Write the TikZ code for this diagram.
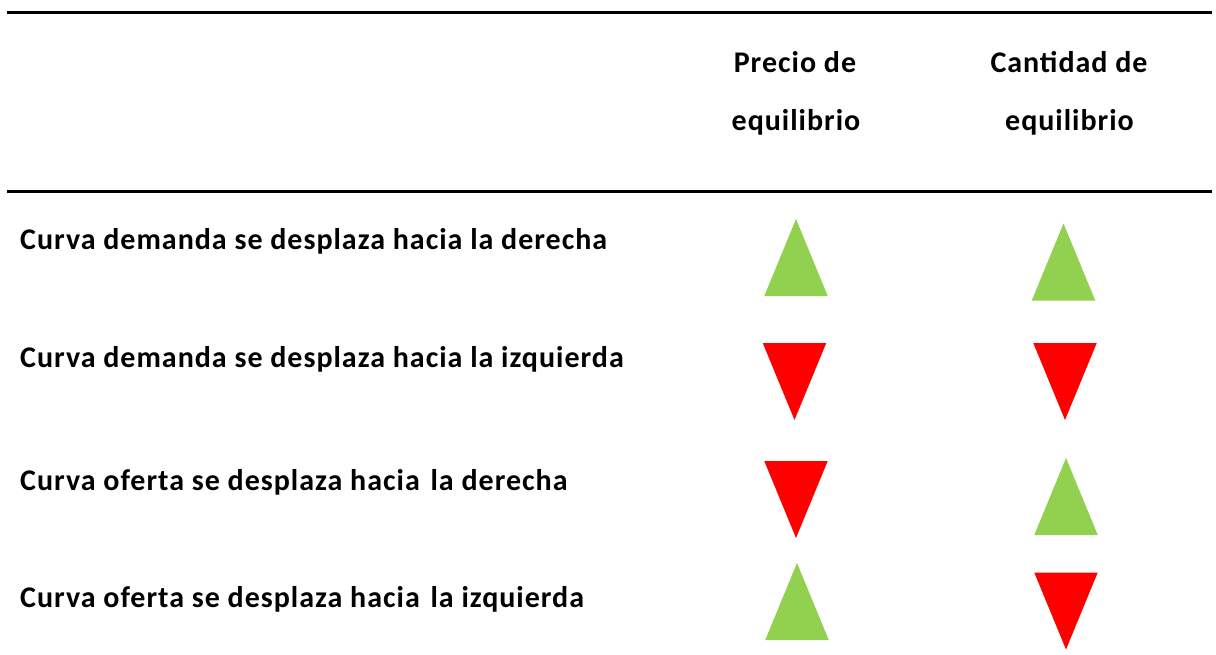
\documentclass[tikz,border=0pt]{standalone}
\usepackage{fontspec}
\setmainfont{Carlito}[LetterSpace=3.3]
\definecolor{verde}{HTML}{92D050}
\definecolor{rojo}{HTML}{FF0000}
\tikzset{
  fila/.style={anchor=base west, inner sep=0pt, font=\bfseries\fontsize{30}{34}\selectfont},
  titulo/.style={anchor=base, inner sep=0pt, font=\bfseries\fontsize{30}{34}\selectfont},
  regla/.style={line width=3pt},
  sube/.pic={\fill[verde] (-31.75,38.5) -- (31.75,38.5) -- (0,-38.5) -- cycle;},
  baja/.pic={\fill[rojo] (-31.75,-38.5) -- (31.75,-38.5) -- (0,38.5) -- cycle;}
}
\begin{document}
\begin{tikzpicture}[x=1pt, y=-1pt]
    \useasboundingbox (0,0) rectangle (1216,655);

    % Lineas de la tabla
    \draw[regla] (7,12.5) -- (1212,12.5);
    \draw[regla] (7,191.5) -- (1212,191.5);

    % Cabeceras
    \node[titulo] (precio1) at (795,73) {Precio de};
    \node[titulo] (precio2) at (796,130.5) {equilibrio};
    \node[titulo] (cantidad1) at (1069,73) {Cantidad~de};
    \node[titulo] (cantidad2) at (1069.5,130.5) {equilibrio};

    % Filas
    \node[fila] (fila1) at (20,250) {Curva demanda se desplaza hacia la derecha};
    \node[fila] (fila2) at (20,367) {Curva demanda se desplaza hacia la izquierda};
    \node[fila] (fila3) at (20,490) {Curva oferta se desplaza hacia~\hspace{3pt}la derecha};
    \node[fila] (fila4) at (20,607) {Curva oferta se desplaza hacia~\hspace{3pt}la izquierda};

    % Flechas: precio y cantidad
    \pic at (796,257.5) {sube};
    \pic at (1063.5,262) {sube};
    \pic at (794.5,381.5) {baja};
    \pic at (1065,381.5) {baja};
    \pic at (796,499.5) {baja};
    \pic at (1066,496.5) {sube};
    \pic at (797,601.5) {sube};
    \pic at (1066,611) {baja};
  \end{tikzpicture}
\end{document}
